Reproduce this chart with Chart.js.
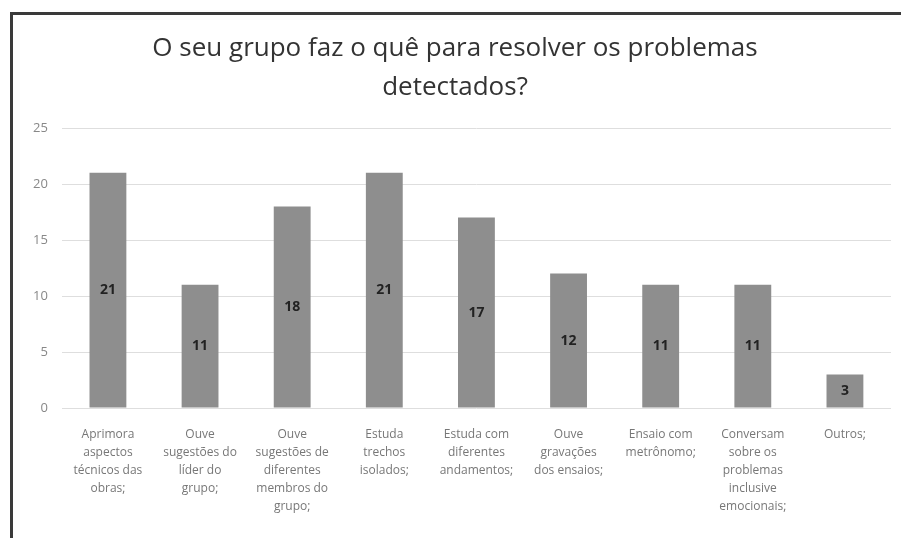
<!DOCTYPE html>
<html>
<head>
<meta charset="utf-8">
<script src="https://cdn.jsdelivr.net/npm/chart.js@4/dist/chart.umd.min.js"></script>
<style>
  html, body { margin: 0; padding: 0; background: #fff; }
  .frame {
    position: absolute; left: 10px; top: 12px; width: 888px; height: 523px;
    border-left: 3px solid #3a3a3a; border-top: 3px solid #3a3a3a;
  }
  canvas { display: block; }
</style>
</head>
<body>
<div class="frame"><canvas id="myChart" width="888" height="523"></canvas></div>
<script>
// chart data
const categories = [
    ["Aprimora", "aspectos", "técnicos das", "obras;"],
    ["Ouve", "sugestões do", "líder do", "grupo;"],
    ["Ouve", "sugestões de", "diferentes", "membros do", "grupo;"],
    ["Estuda", "trechos", "isolados;"],
    ["Estuda com", "diferentes", "andamentos;"],
    ["Ouve", "gravações", "dos ensaios;"],
    ["Ensaio com", "metrônomo;"],
    ["Conversam", "sobre os", "problemas", "inclusive", "emocionais;"],
    ["Outros;"]
];
const counts = [21, 11, 18, 21, 17, 12, 11, 11, 3];
const yTicks = [0, 5, 10, 15, 20, 25];
const titleLines = ["O seu grupo faz o quê para resolver os problemas", "detectados?"];

// write the value in the middle of every bar
const barValues = {
    id: "barValues",
    afterDatasetsDraw(chart) {
        const ctx = chart.ctx;
        const meta = chart.getDatasetMeta(0);
        ctx.save();
        ctx.font = "bold 14px 'Open Sans', sans-serif";
        ctx.fillStyle = "#222";
        ctx.textAlign = "center";
        ctx.textBaseline = "middle";
        meta.data.forEach((bar, i) => {
            const mid = (bar.y + bar.base) / 2;
            ctx.fillText(String(counts[i]), bar.x, mid);
        });
        ctx.restore();
    }
};

const ctx = document.getElementById("myChart").getContext("2d");
new Chart(ctx, {
    type: "bar",
    data: {
        labels: categories,
        datasets: [{
            data: counts,
            backgroundColor: "#8e8e8e",
            categoryPercentage: 1,
            barPercentage: 0.4
        }]
    },
    options: {
        responsive: false,
        animation: false,
        layout: { padding: { left: 6, right: 10, top: 0, bottom: 12 } },
        plugins: {
            legend: { display: false },
            tooltip: { enabled: false },
            title: {
                display: true,
                text: titleLines,
                color: "#333",
                font: { family: "'Open Sans', sans-serif", size: 26, weight: "normal", lineHeight: 1.5 },
                padding: { top: 14, bottom: 21 }
            }
        },
        scales: {
            x: {
                grid: { display: false },
                border: { display: false },
                ticks: {
                    color: "#777",
                    font: { family: "'Open Sans', sans-serif", size: 12, lineHeight: 1.5 },
                    maxRotation: 0,
                    autoSkip: false,
                    padding: 10
                }
            },
            y: {
                min: 0,
                max: 25,
                afterBuildTicks: (axis) => {
                    axis.ticks = yTicks.map(v => ({ value: v }));
                },
                grid: { color: "#dedede", drawTicks: false },
                border: { display: false },
                ticks: {
                    color: "#888",
                    font: { family: "'Open Sans', sans-serif", size: 13 },
                    padding: 14
                }
            }
        }
    },
    plugins: [barValues]
});
</script>
</body>
</html>
